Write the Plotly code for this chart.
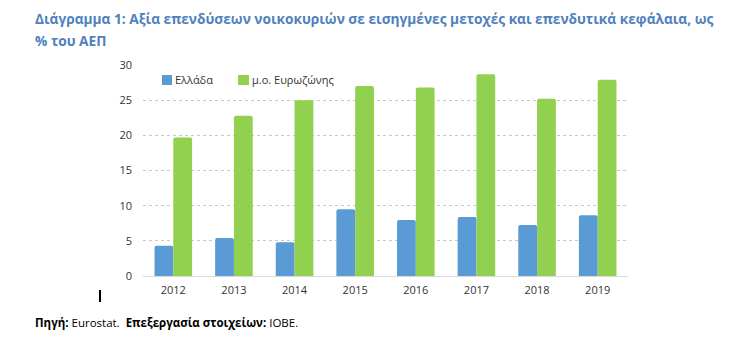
import plotly.graph_objects as go

years = ["2012", "2013", "2014", "2015", "2016", "2017", "2018", "2019"]
greece = [4.3, 5.4, 4.8, 9.5, 7.95, 8.4, 7.25, 8.65]
eurozone = [19.7, 22.8, 25.0, 27.0, 26.8, 28.7, 25.2, 27.9]
series_names = ["Ελλάδα", "μ.ο. Ευρωζώνης"]
series_colors = ["#5B9BD5", "#92D050"]
y_ticks = [0, 5, 10, 15, 20, 25, 30]

FONT = "Open Sans"
# page has 8px body margin; work in screen pixels and convert to paper coords
L, R, T, B = 143, 628, 65, 276
W, H = R - L, B - T


def px(X):
    return (X - L) / W


def py(Y):
    return (B - Y) / H


fig = go.Figure()
for name, vals, col in zip(series_names, [greece, eurozone], series_colors):
    fig.add_trace(go.Bar(x=years, y=vals, name=name,
                         marker=dict(color=col, cornerradius=2, line_width=0)))

fig.update_layout(
    width=743, height=350,
    margin=dict(l=L - 8, r=743 - (R - 8), t=T - 8, b=350 - (B - 8)),
    paper_bgcolor="white", plot_bgcolor="white",
    barmode="group", bargap=0.38, bargroupgap=0,
    font=dict(family=FONT, size=11, color="#333333"),
    showlegend=False,
    xaxis=dict(showgrid=False, showline=True, linecolor="#D9D9D9", linewidth=1,
               ticks="", ticklabelstandoff=4, tickfont=dict(size=11, color="#333333")),
    yaxis=dict(range=[0, 30], tickvals=y_ticks, showgrid=True, gridcolor="#C8C8C8",
               griddash="dot", gridwidth=1, zeroline=False, showline=False,
               ticks="", ticklabelstandoff=10, tickfont=dict(size=11, color="#333333")),
)

# manual legend
leg_items = [(162, 172, 174), (238, 249, 251)]
for (x0, x1, tx), name, col in zip(leg_items, series_names, series_colors):
    fig.add_shape(type="rect", xref="paper", yref="paper",
                  x0=px(x0), x1=px(x1), y0=py(85), y1=py(75),
                  fillcolor=col, line_width=0)
    fig.add_annotation(xref="paper", yref="paper", x=px(tx), y=py(80),
                       xanchor="left", yanchor="middle", showarrow=False,
                       text=name, font=dict(family=FONT, size=11, color="#333333"),
                       borderpad=0)

title_color = "#4F81BD"
fig.add_annotation(xref="paper", yref="paper", x=px(34), y=py(19),
                   xanchor="left", yanchor="middle", showarrow=False, borderpad=0,
                   text="<b>Διάγραμμα 1: Αξία επενδύσεων νοικοκυριών σε εισηγμένες μετοχές και επενδυτικά κεφάλαια, ως</b>",
                   font=dict(family=FONT, size=13.7, color=title_color))
fig.add_annotation(xref="paper", yref="paper", x=px(34), y=py(41),
                   xanchor="left", yanchor="middle", showarrow=False, borderpad=0,
                   text="<b>% του ΑΕΠ</b>",
                   font=dict(family=FONT, size=13.7, color=title_color))
fig.add_annotation(xref="paper", yref="paper", x=px(34), y=py(322),
                   xanchor="left", yanchor="middle", showarrow=False, borderpad=0,
                   text="<b>Πηγή:</b> Eurostat.  <b>Επεξεργασία στοιχείων:</b> ΙΟΒΕ.",
                   font=dict(family=FONT, size=11.5, color="#000000"))
fig.add_shape(type="line", xref="paper", yref="paper",
              x0=px(100), x1=px(100), y0=py(290), y1=py(302),
              line=dict(color="black", width=2))

fig.write_html("out.html")
